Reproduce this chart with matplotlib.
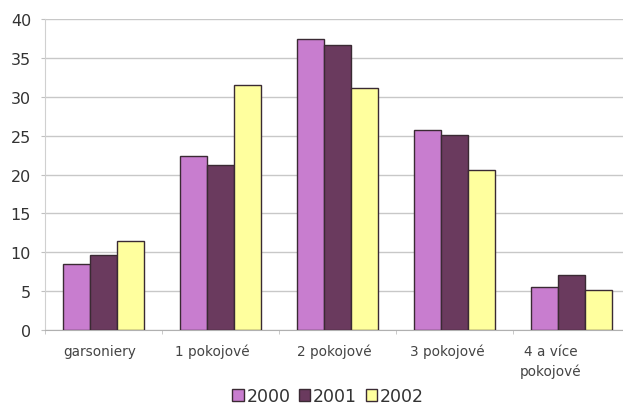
import matplotlib
matplotlib.use("Agg")
import matplotlib.pyplot as plt
import numpy as np

categories = ["garsoniery", "1 pokojové", "2 pokojové", "3 pokojové", "4 a více\npokojové"]
series_names = ["2000", "2001", "2002"]
v2000 = [8.5, 22.4, 37.4, 25.7, 5.5]
v2001 = [9.6, 21.2, 36.7, 25.1, 7.1]
v2002 = [11.4, 31.5, 31.1, 20.6, 5.1]
yticks = [0, 5, 10, 15, 20, 25, 30, 35, 40]

colors = ["#C87DCF", "#6A3A5E", "#FFFF9E"]

fig = plt.figure(figsize=(6.23, 4.06), dpi=100)
W, H = 623, 406
left, right, bottom, top = 45, 630, 331, 20
ax = fig.add_axes([left / W, (H - bottom) / H, (right - left) / W, (bottom - top) / H])

x = np.arange(len(categories))
bw = 0.232
for i, (vals, c, name) in enumerate(zip([v2000, v2001, v2002], colors, series_names)):
    ax.bar(x + (i - 1) * bw, vals, bw, color=c, edgecolor="#3a2a33", linewidth=1.0,
           label=name, zorder=3)

ax.set_xlim(-0.5, len(categories) - 0.5)
ax.set_ylim(0, 40)
ax.set_yticks(yticks)
ax.grid(axis="y", color="#c8c8c8", linewidth=1.0, zorder=0)
for s in ["top", "right"]:
    ax.spines[s].set_visible(False)
ax.spines["left"].set_color("#d0d0d0")
ax.spines["bottom"].set_color("#b0b0b0")
ax.tick_params(axis="y", length=3, color="#c0c0c0", labelsize=11.5, labelcolor="#333333", pad=7)

# category labels sit slightly left of the bar groups in the scanned reference
label_px = np.array([100, 212, 334, 447, 551])
label_pos = (label_px - left) / ((right - left) / len(categories)) - 0.5
ax.set_xticks(label_pos)
ax.set_xticklabels(categories, fontsize=9.8, color="#444444", linespacing=1.45)
ax.tick_params(axis="x", length=0, pad=10)
ax.set_xticks(np.arange(len(categories) + 1) - 0.5, minor=True)
ax.tick_params(axis="x", which="minor", length=3, color="#c0c0c0")

fig.legend(loc="center", bbox_to_anchor=(328 / W, (H - 397) / H), ncol=3, frameon=False,
           fontsize=12.5, handlelength=0.65, handleheight=0.65, handletextpad=0.15,
           columnspacing=0.5, labelcolor="#333333")

fig.savefig("out.png", dpi=100)
